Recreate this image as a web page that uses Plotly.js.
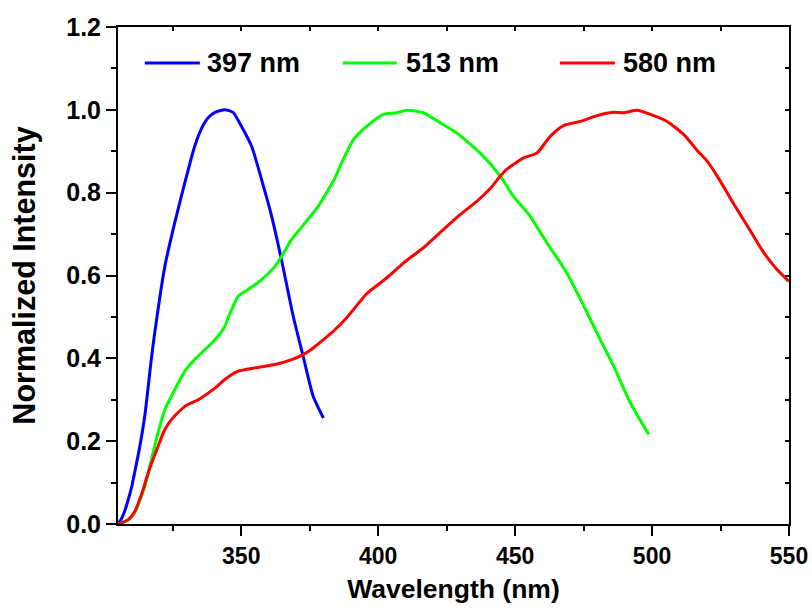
<!DOCTYPE html>
<html>
<head>
<meta charset="utf-8">
<script src="https://cdn.plot.ly/plotly-3.0.1.min.js"></script>
<style>
  html, body { margin: 0; padding: 0; background: #ffffff; }
  #chart { width: 812px; height: 610px; }
</style>
</head>
<body>
<div id="chart"></div>
<script>
// Emission spectra, normalized intensity vs. wavelength (nm)
const seriesNames = ['397 nm', '513 nm', '580 nm'];
const seriesColors = ['#0000ff', '#00ff00', '#ff0000'];

const wl397 = [305, 306.2, 307.4, 308.7, 310.0, 311.1, 312.9, 314.8, 316.0, 317.2, 318.4, 322.1, 325.7, 329.4, 333.0, 335.5, 337.9, 340.4, 344.0, 347.0, 350.1, 353.8, 357.4, 361.1, 364.7, 369.0, 372.6, 376.3, 380.0];
const int397 = [0, 0.012, 0.030, 0.058, 0.090, 0.125, 0.185, 0.262, 0.330, 0.400, 0.461, 0.622, 0.727, 0.824, 0.912, 0.955, 0.981, 0.994, 1.0, 0.994, 0.960, 0.912, 0.832, 0.743, 0.638, 0.501, 0.405, 0.308, 0.256];

const wl513 = [305, 308.7, 311.1, 314.8, 317.2, 319.6, 322.1, 325.7, 329.4, 333.0, 336.7, 340.4, 344.0, 345.2, 347.0, 348.9, 352.5, 357.4, 362.3, 364.7, 368.4, 373.3, 378.1, 381.8, 384.2, 386.1, 391.0, 395.8, 401.9, 406.8, 410.4, 413.5, 416.5, 422.6, 428.7, 437.2, 444.6, 449.4, 455.5, 461.6, 468.9, 476.3, 481.1, 486.0, 492.1, 498.8];
const int513 = [0, 0.010, 0.027, 0.091, 0.155, 0.22, 0.276, 0.324, 0.369, 0.397, 0.421, 0.445, 0.477, 0.498, 0.525, 0.550, 0.566, 0.590, 0.622, 0.646, 0.687, 0.727, 0.767, 0.807, 0.835, 0.864, 0.928, 0.960, 0.989, 0.993, 0.999, 0.997, 0.993, 0.969, 0.944, 0.896, 0.840, 0.791, 0.743, 0.679, 0.606, 0.510, 0.445, 0.381, 0.292, 0.216];

const wl580 = [305, 308.7, 311.1, 313.5, 316.0, 319.6, 322.1, 324.5, 329.4, 334.3, 340.4, 344.0, 348.9, 355.0, 362.3, 368.4, 372.6, 376.3, 380.0, 384.2, 388.5, 391.0, 395.8, 403.1, 409.2, 416.5, 423.8, 429.9, 436.0, 440.9, 444.6, 446.9, 453.1, 458.0, 462.8, 467.7, 473.8, 479.9, 486.0, 489.6, 494.5, 499.4, 505.5, 511.6, 516.5, 520.1, 523.8, 531.1, 536.0, 540.8, 545.7, 550.0];
const int580 = [0, 0.010, 0.030, 0.070, 0.123, 0.187, 0.228, 0.252, 0.284, 0.300, 0.328, 0.349, 0.369, 0.377, 0.385, 0.397, 0.409, 0.425, 0.445, 0.469, 0.498, 0.518, 0.556, 0.594, 0.630, 0.667, 0.711, 0.747, 0.779, 0.810, 0.840, 0.856, 0.884, 0.896, 0.936, 0.962, 0.972, 0.986, 0.994, 0.993, 0.999, 0.989, 0.972, 0.940, 0.902, 0.876, 0.840, 0.759, 0.707, 0.655, 0.614, 0.586];

const xTickVals = [350, 400, 450, 500, 550];
const yTickVals = [0.0, 0.2, 0.4, 0.6, 0.8, 1.0, 1.2];

const fontFamily = 'Liberation Sans, Arial, Helvetica, sans-serif';

const xs = [wl397, wl513, wl580];
const ys = [int397, int513, int580];

const traces = seriesNames.map((name, i) => ({
  type: 'scatter', mode: 'lines', name: name,
  x: xs[i], y: ys[i],
  line: { color: seriesColors[i], width: 3, shape: 'spline', smoothing: 0.6 },
  showlegend: false
}));

// Hand-built legend row inside the plot: a short line followed by its label
const legendLineX = [[0.040, 0.122], [0.335, 0.4155], [0.6585, 0.7405]];
const legendTextX = [0.130, 0.4255, 0.749];
const legendY = 0.9276;

const shapes = seriesNames.map((n, i) => ({
  type: 'line', xref: 'paper', yref: 'paper',
  x0: legendLineX[i][0], x1: legendLineX[i][1], y0: legendY, y1: legendY,
  line: { color: seriesColors[i], width: 3 }
}));

const annotations = seriesNames.map((n, i) => ({
  xref: 'paper', yref: 'paper', x: legendTextX[i], y: legendY,
  xanchor: 'left', yanchor: 'middle', showarrow: false, text: n,
  font: { family: fontFamily, size: 27, color: '#000', weight: 'bold' }
}));

const axisLine = { showline: true, linecolor: '#000', linewidth: 2, showgrid: false, zeroline: false };

const layout = {
  width: 812, height: 610,
  margin: { l: 118, r: 23, t: 27, b: 86 },
  paper_bgcolor: '#ffffff', plot_bgcolor: '#ffffff',
  showlegend: false,
  xaxis: Object.assign({}, axisLine, {
    range: [305, 550], tickvals: xTickVals,
    ticks: 'outside', ticklen: 10, tickwidth: 2, tickcolor: '#000',
    minor: { tickvals: [325, 375, 425, 475, 525], ticks: 'outside', ticklen: 5, tickwidth: 2, tickcolor: '#000' },
    tickfont: { family: fontFamily, size: 23, color: '#000', weight: 'bold' },
    title: { text: 'Wavelength (nm)', standoff: 12, font: { family: fontFamily, size: 26.5, color: '#000', weight: 'bold' } }
  }),
  yaxis: Object.assign({}, axisLine, {
    range: [0, 1.2], tickvals: yTickVals, tickformat: '.1f',
    ticks: 'outside', ticklen: 10, tickwidth: 2, tickcolor: '#000',
    minor: { tickvals: [0.1, 0.3, 0.5, 0.7, 0.9, 1.1], ticks: 'outside', ticklen: 5, tickwidth: 2, tickcolor: '#000' },
    tickfont: { family: fontFamily, size: 25, color: '#000', weight: 'bold' },
    title: { text: 'Normalized Intensity', standoff: 22, font: { family: fontFamily, size: 30.5, color: '#000', weight: 'bold' } }
  }),
  // Frame on top and right with short inward ticks
  xaxis2: Object.assign({}, axisLine, {
    overlaying: 'x', side: 'top', anchor: 'y', range: [305, 550],
    tickvals: [325, 350, 375, 400, 425, 450, 475, 500, 525, 550],
    ticks: 'inside', ticklen: 4, tickwidth: 2, tickcolor: '#000', showticklabels: false
  }),
  yaxis2: Object.assign({}, axisLine, {
    overlaying: 'y', side: 'right', anchor: 'x', range: [0, 1.2],
    tickvals: [0.1, 0.2, 0.3, 0.4, 0.5, 0.6, 0.7, 0.8, 0.9, 1.0, 1.1],
    ticks: 'inside', ticklen: 4, tickwidth: 2, tickcolor: '#000', showticklabels: false
  }),
  shapes: shapes,
  annotations: annotations
};

// Empty trace so the top/right frame axes are laid out
traces.push({ type: 'scatter', x: [], y: [], xaxis: 'x2', yaxis: 'y2', showlegend: false, hoverinfo: 'skip' });

Plotly.newPlot('chart', traces, layout, { staticPlot: true });
</script>
</body>
</html>
